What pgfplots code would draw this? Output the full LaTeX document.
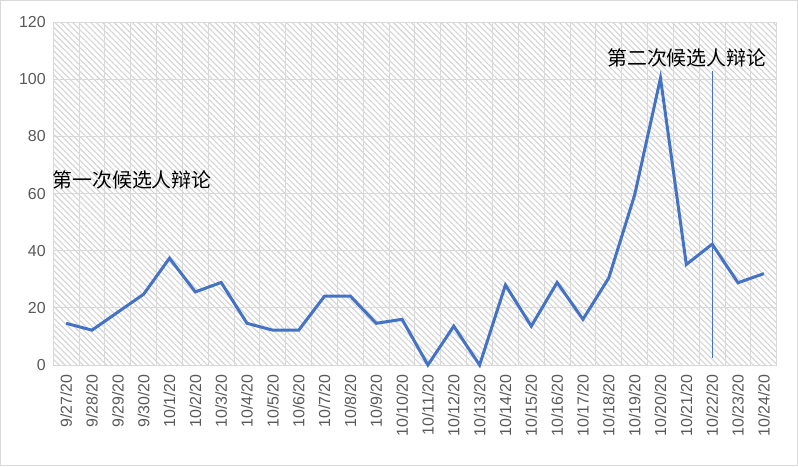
\documentclass[border=0pt]{standalone}
\usepackage{pgfplots}
\pgfplotsset{compat=1.18}
\usetikzlibrary{patterns.meta}
\usepackage{fontspec}
\setmainfont{Liberation Sans}
\newfontfamily\cjk{Noto Sans CJK SC}
\definecolor{lineblue}{HTML}{4472C4}
\definecolor{gridgray}{HTML}{D9D9D9}
\definecolor{ticktext}{HTML}{595959}
\begin{document}
\begin{tikzpicture}[x=1bp,y=1bp]
\begin{axis}[
    scale only axis,
    width=724bp, height=343bp,
    xmin=-0.5, xmax=27.5,
    ymin=0, ymax=120,
    ytick={0,20,...,120},
    xtick={0,...,27},
    xticklabels={9/27/20,9/28/20,9/29/20,9/30/20,10/1/20,10/2/20,10/3/20,10/4/20,10/5/20,10/6/20,10/7/20,10/8/20,10/9/20,10/10/20,10/11/20,10/12/20,10/13/20,10/14/20,10/15/20,10/16/20,10/17/20,10/18/20,10/19/20,10/20/20,10/21/20,10/22/20,10/23/20,10/24/20},
    x tick label style={rotate=90, anchor=east, xshift=-6bp},
    y tick label style={xshift=-4bp},
    minor xtick={-0.5,0.5,...,27.5},
    xminorgrids, ymajorgrids,
    grid style={draw=gridgray, line width=1bp},
    minor grid style={draw=gridgray, line width=1bp},
    major tick length=0pt, minor tick length=0pt,
    axis line style={draw=gridgray, line width=1bp},
    axis background/.style={pattern={Lines[angle=-45,distance=4.2bp,line width=1.1bp]}, pattern color=black!17},
    tick label style={font=\fontsize{16}{18}\selectfont, text=ticktext},
    /pgf/number format/assume math mode=true,
    clip=false,
]
\addplot[color=lineblue, line width=3bp] coordinates {
    (0,14.6) (1,12.2) (2,18.5) (3,24.8) (4,37.4) (5,25.6) (6,28.9)
    (7,14.6) (8,12.2) (9,12.2) (10,24.1) (11,24.1) (12,14.6) (13,16)
    (14,0) (15,13.6) (16,0) (17,28) (18,13.6) (19,28.9) (20,16)
    (21,30.5) (22,59.5) (23,100.4) (24,35.2) (25,42.3) (26,28.8) (27,32)
};
\addplot[color=lineblue, line width=1bp] coordinates {(25,2.5) (25,103)};
\node[font=\cjk\fontsize{20}{23}\selectfont, anchor=center] at (axis cs:2.55,64.7) {第一次候选人辩论};
\node[font=\cjk\fontsize{20}{23}\selectfont, anchor=center] at (axis cs:24.02,107.4) {第二次候选人辩论};
\end{axis}
\draw[gridgray, line width=1.5bp] ([xshift=-52.5bp,yshift=-100.5bp]current axis.south west) rectangle ([xshift=20.5bp,yshift=21.5bp]current axis.north east);
\end{tikzpicture}
\end{document}
